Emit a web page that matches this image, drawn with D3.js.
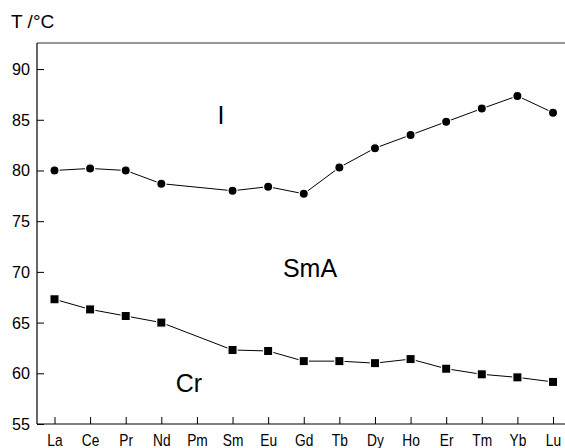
<!DOCTYPE html>
<html><head><meta charset="utf-8">
<script src="https://cdn.jsdelivr.net/npm/d3@7"></script>
<style>body{margin:0;background:#fff}svg{display:block}text{font-family:"Liberation Sans",Arial,sans-serif}</style>
</head><body><svg id="c" width="565" height="448"></svg>
<script>
const elements = ["La","Ce","Pr","Nd","Pm","Sm","Eu","Gd","Tb","Dy","Ho","Er","Tm","Yb","Lu"];
const clearing = [80.0,80.2,80.0,78.7,null,78.0,78.4,77.7,80.3,82.2,83.5,84.8,86.1,87.35,85.7];
const melting  = [67.3,66.3,65.65,65.0,null,62.3,62.2,61.2,61.2,61.0,61.4,60.45,59.9,59.6,59.15];
const yTicks = [55,60,65,70,75,80,85,90];

const svg = d3.select("#c");
const L = 37, R = 565, T = 43, B = 424;
const x = d3.scalePoint().domain(elements).range([54.5, 553]);
const y = d3.scaleLinear().domain([55, 92.57]).range([B, T]);

svg.append("line").attr("x1",L).attr("x2",R).attr("y1",T).attr("y2",T).attr("stroke","#333").attr("stroke-width",1.2);

const ya = svg.append("g").attr("transform",`translate(${L},0)`)
  .call(d3.axisRight(y).tickValues(yTicks).tickSize(7).tickFormat(d3.format("d")));
ya.select(".domain").attr("d",`M0,${T}V${B}`).attr("stroke","#000").attr("stroke-width",1.2);
ya.selectAll(".tick line").attr("stroke","#000");
ya.selectAll(".tick text").attr("x",-7).attr("text-anchor","end").attr("font-size",17).attr("fill","#000")
  .attr("textLength",18).attr("lengthAdjust","spacingAndGlyphs");

const xa = svg.append("g").attr("transform",`translate(0,${B})`)
  .call(d3.axisTop(x).tickSize(7));
xa.select(".domain").attr("d",`M${L},0H${R}`).attr("stroke","#000").attr("stroke-width",1.2);
xa.selectAll(".tick line").attr("stroke","#000");
xa.selectAll(".tick text").attr("y",22).attr("dy","0").attr("font-size",16).attr("fill","#000")
  .attr("transform","scale(0.86,1)");

function series(vals, shape){
  const pts = elements.map((e,i)=>({e,v:vals[i]})).filter(d=>d.v!=null);
  svg.append("path").datum(pts)
    .attr("d", d3.line().x(d=>x(d.e)).y(d=>y(d.v)))
    .attr("fill","none").attr("stroke","#000").attr("stroke-width",1);
  if(shape==="circle"){
    svg.selectAll(null).data(pts).enter().append("circle")
      .attr("cx",d=>x(d.e)).attr("cy",d=>y(d.v)).attr("r",4.6)
      .attr("fill","#000").attr("stroke","#fff").attr("stroke-width",1.2);
  } else {
    svg.selectAll(null).data(pts).enter().append("rect")
      .attr("x",d=>x(d.e)-4.6).attr("y",d=>y(d.v)-4.6).attr("width",9.2).attr("height",9.2)
      .attr("fill","#000").attr("stroke","#fff").attr("stroke-width",1.2);
  }
}
series(clearing,"circle");
series(melting,"rect");

const tt = svg.append("text").attr("x",11).attr("y",28).attr("font-size",19);
tt.append("tspan").text("T");
tt.append("tspan").attr("dx",5).text("/°C");
svg.append("text").attr("x",221).attr("y",124).attr("font-size",25).attr("text-anchor","middle").text("I");
svg.append("text").attr("x",310).attr("y",277).attr("font-size",25).attr("text-anchor","middle").text("SmA");
svg.append("text").attr("x",189).attr("y",392).attr("font-size",25).attr("text-anchor","middle").text("Cr");
</script></body></html>
